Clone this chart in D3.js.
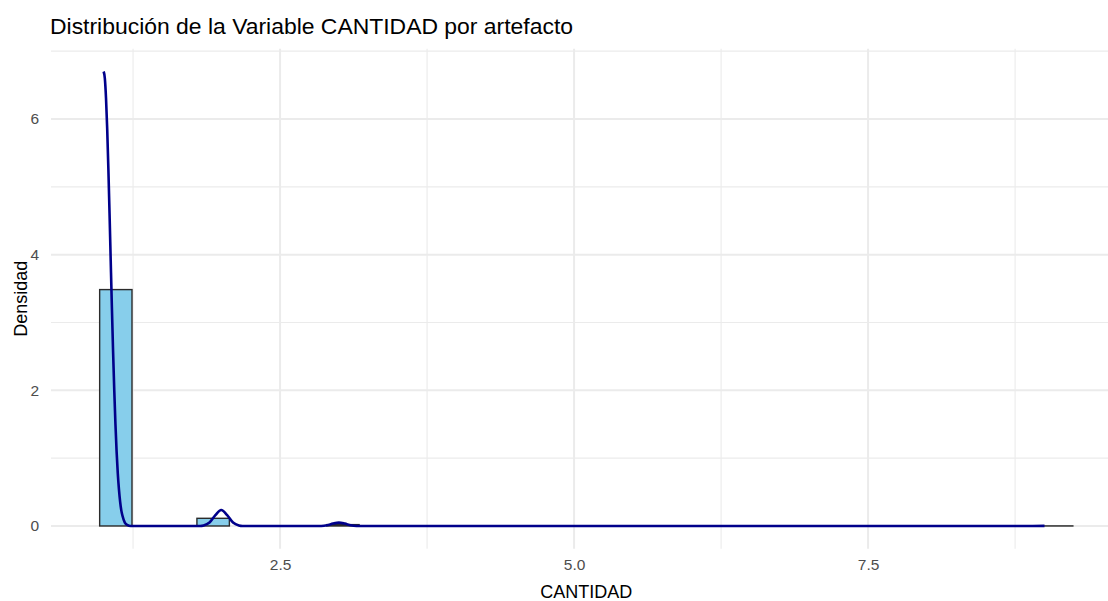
<!DOCTYPE html>
<html>
<head>
<meta charset="utf-8">
<script src="https://cdn.jsdelivr.net/npm/d3@7"></script>
<style>
  html, body { margin: 0; padding: 0; background: #ffffff; }
  svg { display: block; font-family: "Liberation Sans", Arial, sans-serif; }
</style>
</head>
<body>
<svg id="chart" width="1108" height="601"></svg>
<script>
// Histogram bin edges (CANTIDAD) and bar heights on the density scale
const binEdges = [0.966, 1.241, 1.517, 1.793, 2.069, 2.345, 2.621, 2.897, 3.172, 3.448,
                  3.724, 4.000, 4.276, 4.552, 4.828, 5.103, 5.379, 5.655, 5.931, 6.207,
                  6.483, 6.759, 7.034, 7.310, 7.586, 7.862, 8.138, 8.414, 8.690, 8.966, 9.241];
const binDensity = [3.485, 0, 0, 0.113, 0, 0, 0, 0.02, 0, 0,
                    0, 0, 0, 0, 0, 0, 0, 0, 0, 0,
                    0, 0, 0, 0, 0, 0, 0, 0, 0, 0.001];

// Kernel density curve
const densX = [1.000, 1.010, 1.020, 1.030, 1.040, 1.050, 1.060, 1.070, 1.080, 1.090,
               1.100, 1.110, 1.120, 1.130, 1.140, 1.150, 1.160, 1.180, 1.200, 1.230,
               1.820, 1.850, 1.900, 1.950, 2.000, 2.050, 2.100, 2.150, 2.180,
               2.850, 2.900, 2.950, 3.000, 3.050, 3.100, 3.150, 8.900, 9.000];
const densY = [6.70, 6.60, 6.31, 5.86, 5.27, 4.61, 3.91, 3.22, 2.58, 2.01,
               1.51, 1.10, 0.78, 0.54, 0.36, 0.23, 0.15, 0.05, 0.015, 0,
               0, 0.007, 0.05, 0.16, 0.235, 0.16, 0.05, 0.007, 0,
               0, 0.01, 0.035, 0.05, 0.035, 0.01, 0, 0, 0.001];

const xMajor = [2.5, 5.0, 7.5];
const xMinor = [1.25, 3.75, 6.25, 8.75];
const yMajor = [0, 2, 4, 6];
const yMinor = [1, 3, 5, 7];

const svg = d3.select("#chart");
const panel = { left: 51, right: 1121.5, top: 48.8, bottom: 548.7 };

// ggplot-style 5% expansion around the data range
const xLo = d3.min(binEdges), xHi = d3.max(binEdges);
const xPad = (xHi - xLo) * 0.05;
const x = d3.scaleLinear().domain([xLo - xPad, xHi + xPad]).range([panel.left, panel.right]);
const yMax = Math.max(d3.max(densY), d3.max(binDensity));
const yPad = yMax * 0.05;
const y = d3.scaleLinear().domain([-yPad, yMax + yPad]).range([panel.bottom, panel.top]);

const grid = svg.append("g");
// minor grid
grid.selectAll("line.xmin").data(xMinor).join("line")
  .attr("x1", d => x(d)).attr("x2", d => x(d))
  .attr("y1", panel.top).attr("y2", panel.bottom)
  .attr("stroke", "#ebebeb").attr("stroke-width", 1.1);
grid.selectAll("line.ymin").data(yMinor).join("line")
  .attr("y1", d => y(d)).attr("y2", d => y(d))
  .attr("x1", panel.left).attr("x2", panel.right)
  .attr("stroke", "#ebebeb").attr("stroke-width", 1.1);
// major grid
grid.selectAll("line.xmaj").data(xMajor).join("line")
  .attr("x1", d => x(d)).attr("x2", d => x(d))
  .attr("y1", panel.top).attr("y2", panel.bottom)
  .attr("stroke", "#ebebeb").attr("stroke-width", 2);
grid.selectAll("line.ymaj").data(yMajor).join("line")
  .attr("y1", d => y(d)).attr("y2", d => y(d))
  .attr("x1", panel.left).attr("x2", panel.right)
  .attr("stroke", "#ebebeb").attr("stroke-width", 2);

// histogram bars
const bins = binDensity.map((v, i) => ({ x0: binEdges[i], x1: binEdges[i + 1], v }));
svg.append("g").selectAll("rect").data(bins).join("rect")
  .attr("x", d => x(d.x0))
  .attr("width", d => x(d.x1) - x(d.x0))
  .attr("y", d => y(d.v))
  .attr("height", d => y(0) - y(d.v))
  .attr("fill", "#87ceeb")
  .attr("stroke", "#2b2b2b")
  .attr("stroke-width", 1.4);

// density curve
const pts = densX.map((d, i) => [d, densY[i]]);
svg.append("path")
  .datum(pts)
  .attr("fill", "none")
  .attr("stroke", "#00008b")
  .attr("stroke-width", 2.6)
  .attr("stroke-linejoin", "round")
  .attr("d", d3.line().x(d => x(d[0])).y(d => y(d[1])).curve(d3.curveMonotoneX));

// axes (labels only, as in theme_minimal)
const xAxis = d3.axisBottom(x).tickValues(xMajor).tickFormat(d3.format(".1f")).tickSize(0).tickPadding(10);
const gx = svg.append("g").attr("transform", `translate(0,${panel.bottom})`).call(xAxis);
gx.select(".domain").remove();
gx.selectAll("text").attr("fill", "#4d4d4d").attr("font-size", 15.5)
  .attr("font-family", "'Liberation Sans', Arial, sans-serif");

const yAxis = d3.axisLeft(y).tickValues(yMajor).tickFormat(d3.format("d")).tickSize(0).tickPadding(12);
const gy = svg.append("g").attr("transform", `translate(${panel.left},0)`).call(yAxis);
gy.select(".domain").remove();
gy.selectAll("text").attr("fill", "#4d4d4d").attr("font-size", 15.5)
  .attr("font-family", "'Liberation Sans', Arial, sans-serif");

// titles
svg.append("text").attr("x", 50).attr("y", 34)
  .attr("font-size", 22.5).attr("fill", "#000")
  .attr("textLength", 523).attr("lengthAdjust", "spacingAndGlyphs")
  .text("Distribución de la Variable CANTIDAD por artefacto");
svg.append("text").attr("x", (panel.left + panel.right) / 2).attr("y", 598)
  .attr("text-anchor", "middle").attr("font-size", 18).attr("fill", "#000")
  .text("CANTIDAD");
svg.append("text")
  .attr("transform", `translate(27,${(panel.top + panel.bottom) / 2}) rotate(-90)`)
  .attr("text-anchor", "middle").attr("font-size", 18).attr("fill", "#000")
  .text("Densidad");
</script>
</body>
</html>
